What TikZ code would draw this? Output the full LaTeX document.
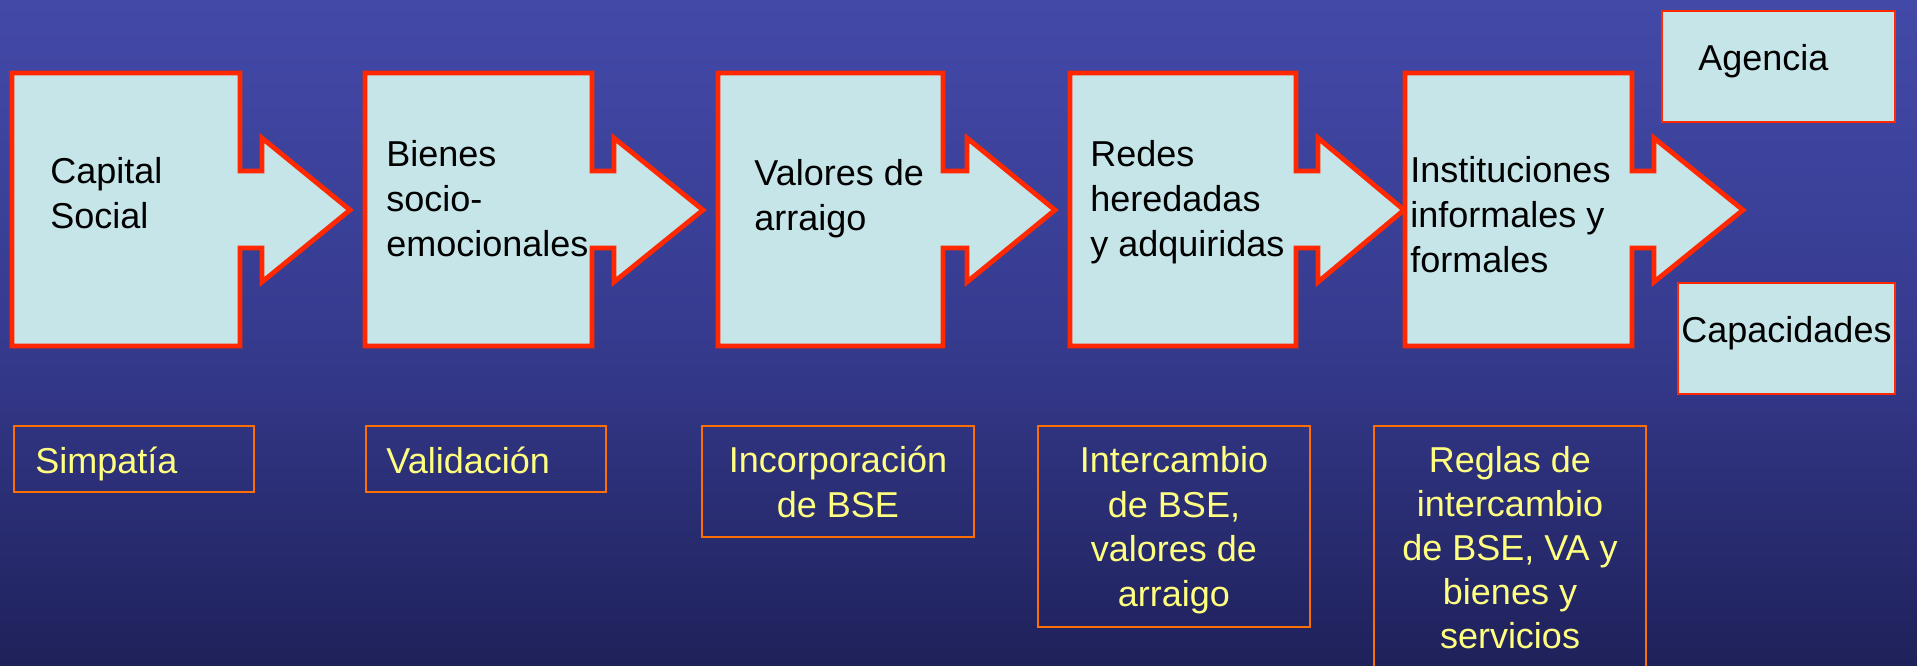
\documentclass[tikz,border=0pt]{standalone}
\usepackage{fontspec}
\setmainfont{Liberation Sans}
\definecolor{bgtop}{RGB}{67,73,168}
\definecolor{bgmid}{RGB}{54,59,143}
\definecolor{bgbot}{RGB}{31,33,90}
\definecolor{boxfill}{RGB}{197,229,232}
\definecolor{boxred}{RGB}{255,40,0}
\definecolor{boxorange}{RGB}{255,110,0}
\definecolor{txtyellow}{RGB}{255,255,128}
\tikzset{
  redshape/.style={draw=boxred, fill=boxfill, line width=2.4pt, line join=miter},
  thinred/.style={draw=boxred, fill=boxfill, line width=1pt},
  orangebox/.style={draw=boxorange, line width=1pt},
  toptext/.style={anchor=base west, align=left, inner sep=0pt, text=black, font=\fontsize{18}{22.5}\selectfont},
  bottext/.style={inner sep=0pt, text=txtyellow, font=\fontsize{18}{22}\selectfont},
}
\newcommand{\arrbox}[4]{\draw[redshape] (#1,73) -- (#2,73) -- (#2,171) -- (#3,171) -- (#3,138) -- (#4,210) -- (#3,282) -- (#3,248) -- (#2,248) -- (#2,346) -- (#1,346) -- cycle;}
\begin{document}
\begin{tikzpicture}[x=0.5pt,y=-0.5pt]
\useasboundingbox (0,0) rectangle (1917,665);
\clip (0,0) rectangle (1917,665);
\shade[top color=bgtop, bottom color=bgbot, middle color=bgmid] (0,0) rectangle (1917,665);

% flow shapes
\arrbox{12}{240}{262}{350}
\arrbox{365}{592}{614}{703}
\arrbox{718}{943}{967}{1055}
\arrbox{1070}{1296}{1318}{1404}
\arrbox{1405}{1632}{1654}{1743}

% (multi-line nodes: base anchor = baseline of last line)
\node[toptext] (t1) at (50,228) {Capital\\Social};
\node[toptext] (t2) at (386,256) {Bienes\\socio-\\emocionales};
\node[toptext] (t3) at (754,230) {Valores de\\arraigo};
\node[toptext] (t4) at (1090,256) {Redes\\heredadas\\y adquiridas};
\node[toptext] (t5) at (1410,272) {Instituciones\\informales y\\formales};

% outcome boxes
\draw[thinred] (1662,11) rectangle (1895,122);
\draw[thinred] (1678,283) rectangle (1895,394);
\node[toptext] (ag) at (1698,70) {Agencia};
\node[toptext] (cap) at (1681,342) {Capacidades};

% bottom boxes
\draw[orangebox] (14,426) rectangle (254,492);
\draw[orangebox] (366,426) rectangle (606,492);
\draw[orangebox] (702,426) rectangle (974,537);
\draw[orangebox] (1038,426) rectangle (1310,627);
\draw[orangebox] (1374,426) rectangle (1646,700);

\node[bottext, anchor=base west] (b1) at (35,473) {Simpatía};
\node[bottext, anchor=base west] (b2) at (386,473) {Validación};
\node[bottext, anchor=base, align=center, font=\fontsize{18}{22.5}\selectfont] (b3) at (838,517) {Incorporación\\de BSE};
\node[bottext, anchor=base, align=center, font=\fontsize{18}{22.2}\selectfont] (b4) at (1174,606) {Intercambio\\de BSE,\\valores de\\arraigo};
\node[bottext, anchor=base, align=center, font=\fontsize{18}{22}\selectfont] (b5) at (1510,648) {Reglas de\\intercambio\\de BSE, VA y\\bienes y\\servicios};
\end{tikzpicture}
\end{document}
